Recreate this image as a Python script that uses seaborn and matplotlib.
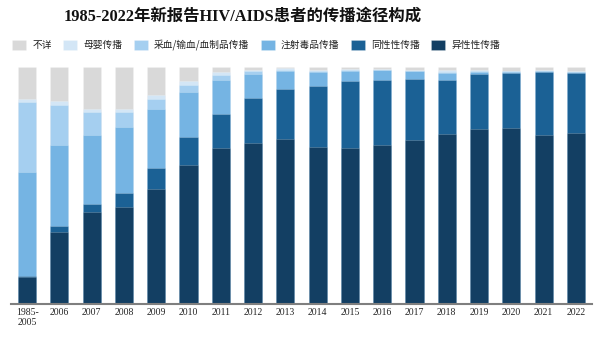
import numpy as np
import pandas as pd
import matplotlib
matplotlib.use("Agg")
import matplotlib.pyplot as plt
import seaborn as sns

categories = ['1985-\n2005', '2006', '2007', '2008', '2009', '2010', '2011', '2012', '2013',
              '2014', '2015', '2016', '2017', '2018', '2019', '2020', '2021', '2022']
hetero = [11.3, 30.5, 38.8, 40.8, 48.4, 58.5, 65.7, 67.9, 69.5, 66.4, 66.0, 67.0, 69.3, 71.6, 73.7, 74.1, 71.4, 72.0]
msm = [0.4, 2.5, 3.4, 6.2, 8.8, 11.8, 14.6, 19.1, 21.3, 25.7, 28.2, 27.6, 25.8, 23.0, 23.3, 23.2, 26.4, 25.6]
idu = [44.1, 34.2, 29.2, 27.8, 25.2, 19.3, 14.3, 9.9, 7.5, 5.9, 4.3, 4.0, 3.2, 3.0, 1.0, 0.7, 0.5, 0.3]
blood = [29.6, 16.9, 9.6, 6.2, 4.2, 2.9, 2.2, 1.3, 0.5, 0.3, 0.3, 0.2, 0.2, 0.2, 0.2, 0.2, 0.1, 0.1]
mother_child = [1.1, 1.4, 1.4, 1.1, 1.4, 1.5, 1.2, 0.7, 0.9, 0.6, 0.4, 0.3, 0.3, 0.9, 0.4, 0.2, 0.2, 0.3]
unknown = [13.5, 14.5, 17.6, 17.9, 12.0, 6.0, 2.0, 1.1, 0.3, 1.1, 0.8, 0.9, 1.2, 1.3, 1.4, 1.6, 1.4, 1.7]

series_names = ['异性性传播', '同性性传播', '注射毒品传播', '采血/输血/血制品传播', '母婴传播', '不详']
series_colors = ['#133F63', '#1B6195', '#75B4E3', '#A5CFF0', '#D3E6F6', '#D9D9D9']

sns.set_theme(style='white')
plt.rcParams['font.family'] = ['Noto Sans CJK SC', 'DejaVu Sans']

vals = np.array([hetero, msm, idu, blood, mother_child, unknown], dtype=float)
vals = vals / vals.sum(axis=0) * 100
cum = np.cumsum(vals, axis=0)

fig = plt.figure(figsize=(6.1, 3.42), dpi=100)
ax = fig.add_axes([11/610, 1-304/342, (592-11)/610, (304-67)/342])

for i in range(len(series_names) - 1, -1, -1):
    df = pd.DataFrame({'cat': categories, 'val': cum[i]})
    sns.barplot(data=df, x='cat', y='val', color=series_colors[i], saturation=1,
                width=0.56, label=series_names[i], ax=ax,
                edgecolor=(1, 1, 1, 0.35), linewidth=0.4)

ax.set_xlim(-0.5, len(categories) - 0.5)
ax.set_ylim(0, 100)
ax.set_xlabel('')
ax.set_ylabel('')
ax.set_yticks([])
for s in ['top', 'left', 'right']:
    ax.spines[s].set_visible(False)
ax.spines['bottom'].set_color('#7F7F7F')
ax.spines['bottom'].set_linewidth(1.5)
ax.tick_params(axis='x', length=0, pad=3)
for lab in ax.get_xticklabels():
    lab.set_fontfamily(['Liberation Serif', 'DejaVu Serif'])
    lab.set_fontsize(7)
    lab.set_linespacing(1.1)
    lab.set_va('top')

handles, labels = ax.get_legend_handles_labels()
if ax.get_legend() is not None:
    ax.get_legend().remove()
leg = fig.legend(handles, labels, loc='center left', bbox_to_anchor=(12/610, 1-45/342),
                 ncol=6, frameon=False, fontsize=7, handlelength=1.45, handleheight=1.25,
                 handletextpad=0.65, columnspacing=1.15, borderpad=0, borderaxespad=0)
for t in leg.get_texts():
    t.set_color('#222222')

fig.text(243/610, 1-17/342, '1985-2022年新报告HIV/AIDS患者的传播途径构成',
         ha='center', va='center', fontsize=11.8, fontweight='bold',
         family=['Liberation Serif', 'Noto Sans CJK SC'], color='#111111')

fig.savefig('out.png', dpi=100)
